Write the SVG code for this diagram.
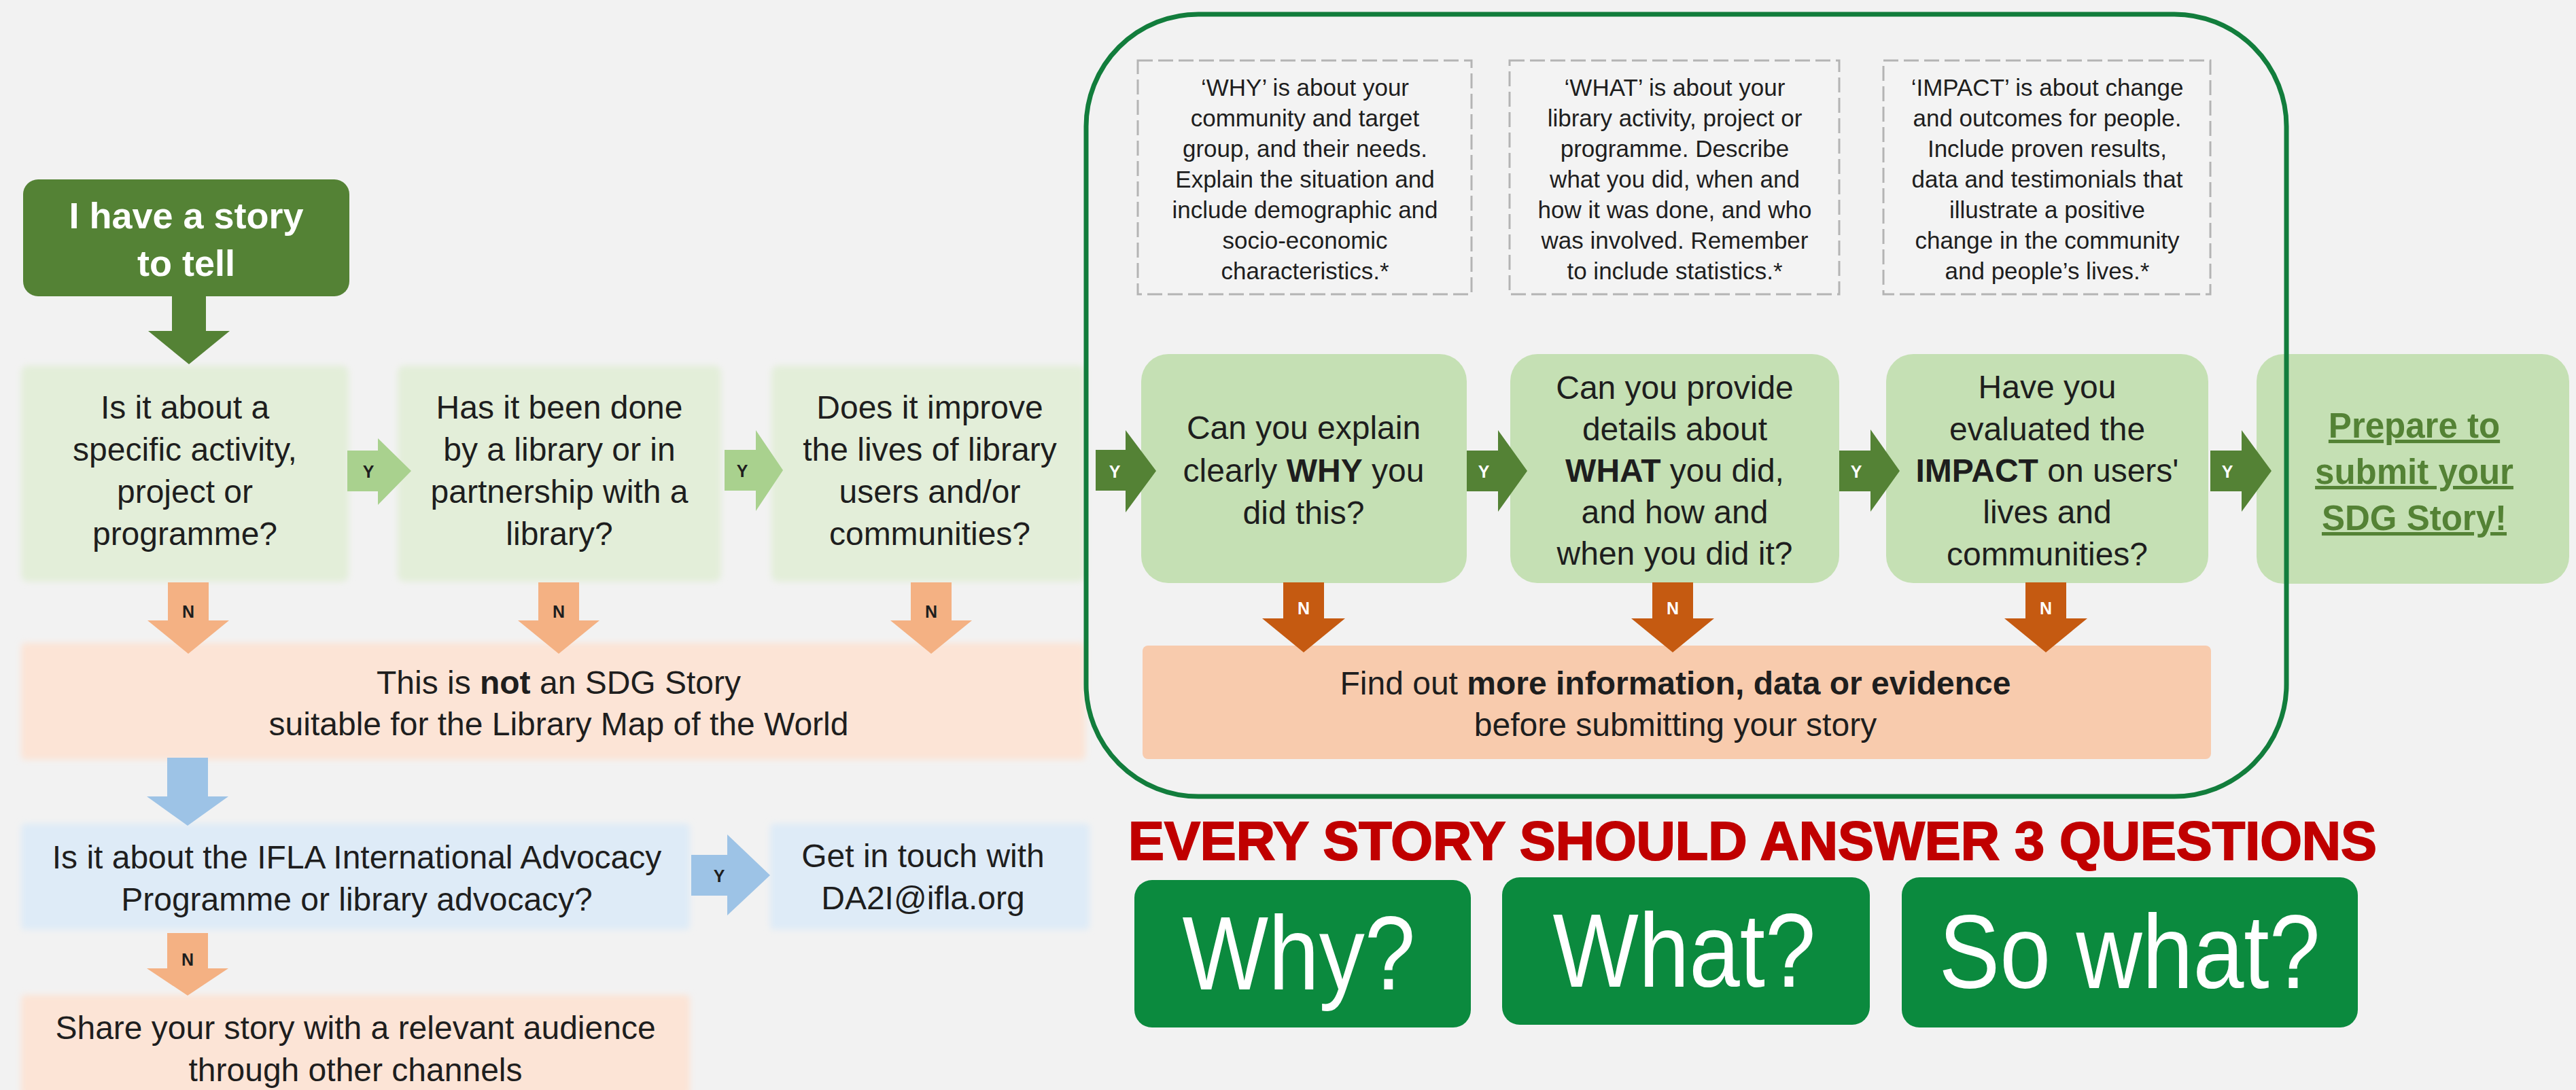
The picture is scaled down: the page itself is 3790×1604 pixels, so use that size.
<svg xmlns="http://www.w3.org/2000/svg" width="3790" height="1604" viewBox="0 0 3790 1604">
<defs>
<filter id="soft" x="-5%" y="-10%" width="110%" height="120%"><feGaussianBlur stdDeviation="5"/></filter>
<style>
text{font-family:"Liberation Sans",Arial,sans-serif;fill:#1e1e1e;text-anchor:middle}
.m{font-size:48px}
.s{font-size:35px}
.b{font-weight:bold}
.lbl{font-size:25px;font-weight:bold}
.w{fill:#ffffff}
.pg{fill:#e3eed9}
.ig{fill:#c5e0b4}
.sal{fill:#fce4d6}
.blu{fill:#deebf7}
.dash{fill:#f3f3f3;stroke:#b4b4b4;stroke-width:3;stroke-dasharray:22 8}
.big{font-size:154px;fill:#ffffff}
.q{fill:#0b8a3e}
</style>
</defs>
<rect x="0" y="0" width="3790" height="1604" fill="#f2f2f2"/>

<g id="start">
<rect x="34" y="264" width="480" height="172" rx="22" fill="#548235"/>
<text class="b w" x="274" y="336" font-size="54">I have a story</text>
<text class="b w" x="274" y="406" font-size="54">to tell</text>
</g>

<g id="q1">
<rect class="pg" x="31" y="538" width="482" height="318" rx="10" filter="url(#soft)"/>
<text class="m" x="272" y="616">Is it about a</text>
<text class="m" x="272" y="678">specific activity,</text>
<text class="m" x="272" y="740">project or</text>
<text class="m" x="272" y="802">programme?</text>
</g>
<g id="q2">
<rect class="pg" x="585" y="538" width="476" height="318" rx="10" filter="url(#soft)"/>
<text class="m" x="823" y="616">Has it been done</text>
<text class="m" x="823" y="678">by a library or in</text>
<text class="m" x="823" y="740">partnership with a</text>
<text class="m" x="823" y="802">library?</text>
</g>
<g id="q3">
<rect class="pg" x="1135" y="538" width="462" height="318" rx="10" filter="url(#soft)"/>
<text class="m" x="1368" y="616">Does it improve</text>
<text class="m" x="1368" y="678">the lives of library</text>
<text class="m" x="1368" y="740">users and/or</text>
<text class="m" x="1368" y="802">communities?</text>
</g>

<g id="notsdg">
<rect class="sal" x="31" y="946" width="1566" height="172" rx="6" filter="url(#soft)"/>
<text class="m" x="822" y="1021">This is <tspan class="b">not</tspan> an SDG Story</text>
<text class="m" x="822" y="1082">suitable for the Library Map of the World</text>
</g>

<g id="ifla">
<rect class="blu" x="31" y="1212" width="984" height="156" rx="6" filter="url(#soft)"/>
<text class="m" x="525" y="1278">Is it about the IFLA International Advocacy</text>
<text class="m" x="525" y="1340">Programme or library advocacy?</text>
</g>
<g id="contact">
<rect class="blu" x="1133" y="1212" width="470" height="156" rx="6" filter="url(#soft)"/>
<text class="m" x="1358" y="1276">Get in touch with</text>
<text class="m" x="1358" y="1338">DA2I@ifla.org</text>
</g>
<g id="share">
<rect class="sal" x="31" y="1464" width="984" height="150" rx="6" filter="url(#soft)"/>
<text class="m" x="523" y="1529">Share your story with a relevant audience</text>
<text class="m" x="523" y="1591">through other channels</text>
</g>

<g id="why-note">
<rect class="dash" x="1674" y="89" width="491" height="344"/>
<text class="s" x="1920" y="141">‘WHY’ is about your</text>
<text class="s" x="1920" y="186">community and target</text>
<text class="s" x="1920" y="231">group, and their needs.</text>
<text class="s" x="1920" y="276">Explain the situation and</text>
<text class="s" x="1920" y="321">include demographic and</text>
<text class="s" x="1920" y="366">socio-economic</text>
<text class="s" x="1920" y="411">characteristics.*</text>
</g>
<g id="what-note">
<rect class="dash" x="2221" y="89" width="485" height="344"/>
<text class="s" x="2464" y="141">‘WHAT’ is about your</text>
<text class="s" x="2464" y="186">library activity, project or</text>
<text class="s" x="2464" y="231">programme. Describe</text>
<text class="s" x="2464" y="276">what you did, when and</text>
<text class="s" x="2464" y="321">how it was done, and who</text>
<text class="s" x="2464" y="366">was involved. Remember</text>
<text class="s" x="2464" y="411">to include statistics.*</text>
</g>
<g id="impact-note">
<rect class="dash" x="2771" y="89" width="481" height="344"/>
<text class="s" x="3012" y="141">‘IMPACT’ is about change</text>
<text class="s" x="3012" y="186">and outcomes for people.</text>
<text class="s" x="3012" y="231">Include proven results,</text>
<text class="s" x="3012" y="276">data and testimonials that</text>
<text class="s" x="3012" y="321">illustrate a positive</text>
<text class="s" x="3012" y="366">change in the community</text>
<text class="s" x="3012" y="411">and people’s lives.*</text>
</g>

<g id="why-q">
<rect class="ig" x="1679" y="521" width="479" height="337" rx="40"/>
<text class="m" x="1918" y="646">Can you explain</text>
<text class="m" x="1918" y="709">clearly <tspan class="b">WHY</tspan> you</text>
<text class="m" x="1918" y="771">did this?</text>
</g>
<g id="what-q">
<rect class="ig" x="2222" y="521" width="484" height="337" rx="40"/>
<text class="m" x="2464" y="587">Can you provide</text>
<text class="m" x="2464" y="648">details about</text>
<text class="m" x="2464" y="709"><tspan class="b">WHAT</tspan> you did,</text>
<text class="m" x="2464" y="770">and how and</text>
<text class="m" x="2464" y="831">when you did it?</text>
</g>
<g id="impact-q">
<rect class="ig" x="2775" y="521" width="474" height="337" rx="40"/>
<text class="m" x="3012" y="586">Have you</text>
<text class="m" x="3012" y="648">evaluated the</text>
<text class="m" x="3012" y="709"><tspan class="b">IMPACT</tspan> on users'</text>
<text class="m" x="3012" y="770">lives and</text>
<text class="m" x="3012" y="832">communities?</text>
</g>
<g id="prepare">
<rect class="ig" x="3320" y="521" width="460" height="338" rx="40"/>
<text class="b" x="3552" y="644" font-size="51" fill="#548235" style="fill:#548235" text-decoration="underline">Prepare to</text>
<text class="b" x="3552" y="712" font-size="51" style="fill:#548235" text-decoration="underline">submit your</text>
<text class="b" x="3552" y="780" font-size="51" style="fill:#548235" text-decoration="underline">SDG Story!</text>
</g>

<g id="more-info">
<rect x="1681" y="950" width="1572" height="167" rx="8" fill="#f8cbad"/>
<text class="m" x="2465" y="1022">Find out <tspan class="b">more information, data or evidence</tspan></text>
<text class="m" x="2465" y="1083">before submitting your story</text>
</g>

<g id="box-group">
<rect x="1598" y="21" width="1766" height="1151" rx="165" fill="none" stroke="#127d3c" stroke-width="7"/>
</g>

<g id="connectors">
<polygon points="253,435 303,435 303,487 338,487 278,536 218,487 253,487" fill="#548235"/>
<g fill="#a9d18e">
<polygon points="511,663 556,663 556,645 605,693 556,743 556,723 511,723"/>
<polygon points="1066,662 1112,662 1112,633 1152,692 1112,752 1112,722 1066,722"/>
</g>
<g fill="#548235">
<polygon points="1612,662 1656,662 1656,633 1701,693 1656,754 1656,722 1612,722"/>
<polygon points="2158,663 2204,663 2204,633 2247,693 2204,753 2204,723 2158,723"/>
<polygon points="2706,663 2752,663 2752,632 2795,693 2752,753 2752,723 2706,723"/>
<polygon points="3252,663 3298,663 3298,633 3342,693 3298,753 3298,723 3252,723"/>
</g>
<polygon points="1017,1258 1070,1258 1070,1228 1133,1288 1070,1347 1070,1318 1017,1318" fill="#9dc3e6"/>
<g fill="#f4b183">
<polygon points="247,857 307,857 307,913 337,913 277,962 217,913 247,913"/>
<polygon points="792,857 852,857 852,913 882,913 822,962 762,913 792,913"/>
<polygon points="1340,857 1400,857 1400,913 1430,913 1370,962 1310,913 1340,913"/>
<polygon points="246,1373 306,1373 306,1425 336,1425 276,1465 216,1425 246,1425"/>
</g>
<polygon points="246,1115 306,1115 306,1172 336,1172 276,1215 216,1172 246,1172" fill="#9dc3e6"/>
<g fill="#c55a11">
<polygon points="1888,857 1948,857 1948,910 1979,910 1918,960 1857,910 1888,910"/>
<polygon points="2431,857 2491,857 2491,910 2522,910 2461,960 2400,910 2431,910"/>
<polygon points="2980,857 3040,857 3040,910 3071,910 3010,960 2949,910 2980,910"/>
</g>
<text class="lbl" x="542" y="703">Y</text>
<text class="lbl" x="1092" y="702">Y</text>
<text class="lbl w" x="1640" y="703">Y</text>
<text class="lbl w" x="2183" y="703">Y</text>
<text class="lbl w" x="2731" y="703">Y</text>
<text class="lbl w" x="3277" y="703">Y</text>
<text class="lbl" x="1058" y="1298">Y</text>
<text class="lbl" x="277" y="909">N</text>
<text class="lbl" x="822" y="909">N</text>
<text class="lbl" x="1370" y="909">N</text>
<text class="lbl" x="276" y="1421">N</text>
<text class="lbl w" x="1918" y="904">N</text>
<text class="lbl w" x="2461" y="904">N</text>
<text class="lbl w" x="3010" y="904">N</text>
</g>

<g id="headline">
<text x="1660" y="1265" font-size="79" font-weight="bold" textLength="1837" lengthAdjust="spacingAndGlyphs" style="text-anchor:start;fill:#c00000;stroke:#c00000;stroke-width:2">EVERY STORY SHOULD ANSWER 3 QUESTIONS</text>
</g>
<g id="why">
<rect class="q" x="1669" y="1295" width="495" height="217" rx="26"/>
<text class="big" x="1911" y="1456" textLength="343" lengthAdjust="spacingAndGlyphs">Why?</text>
</g>
<g id="what">
<rect class="q" x="2210" y="1291" width="541" height="217" rx="26"/>
<text class="big" x="2478" y="1452" textLength="387" lengthAdjust="spacingAndGlyphs">What?</text>
</g>
<g id="sowhat">
<rect class="q" x="2798" y="1291" width="671" height="221" rx="26"/>
<text class="big" x="3133" y="1454" textLength="561" lengthAdjust="spacingAndGlyphs">So what?</text>
</g>
</svg>
